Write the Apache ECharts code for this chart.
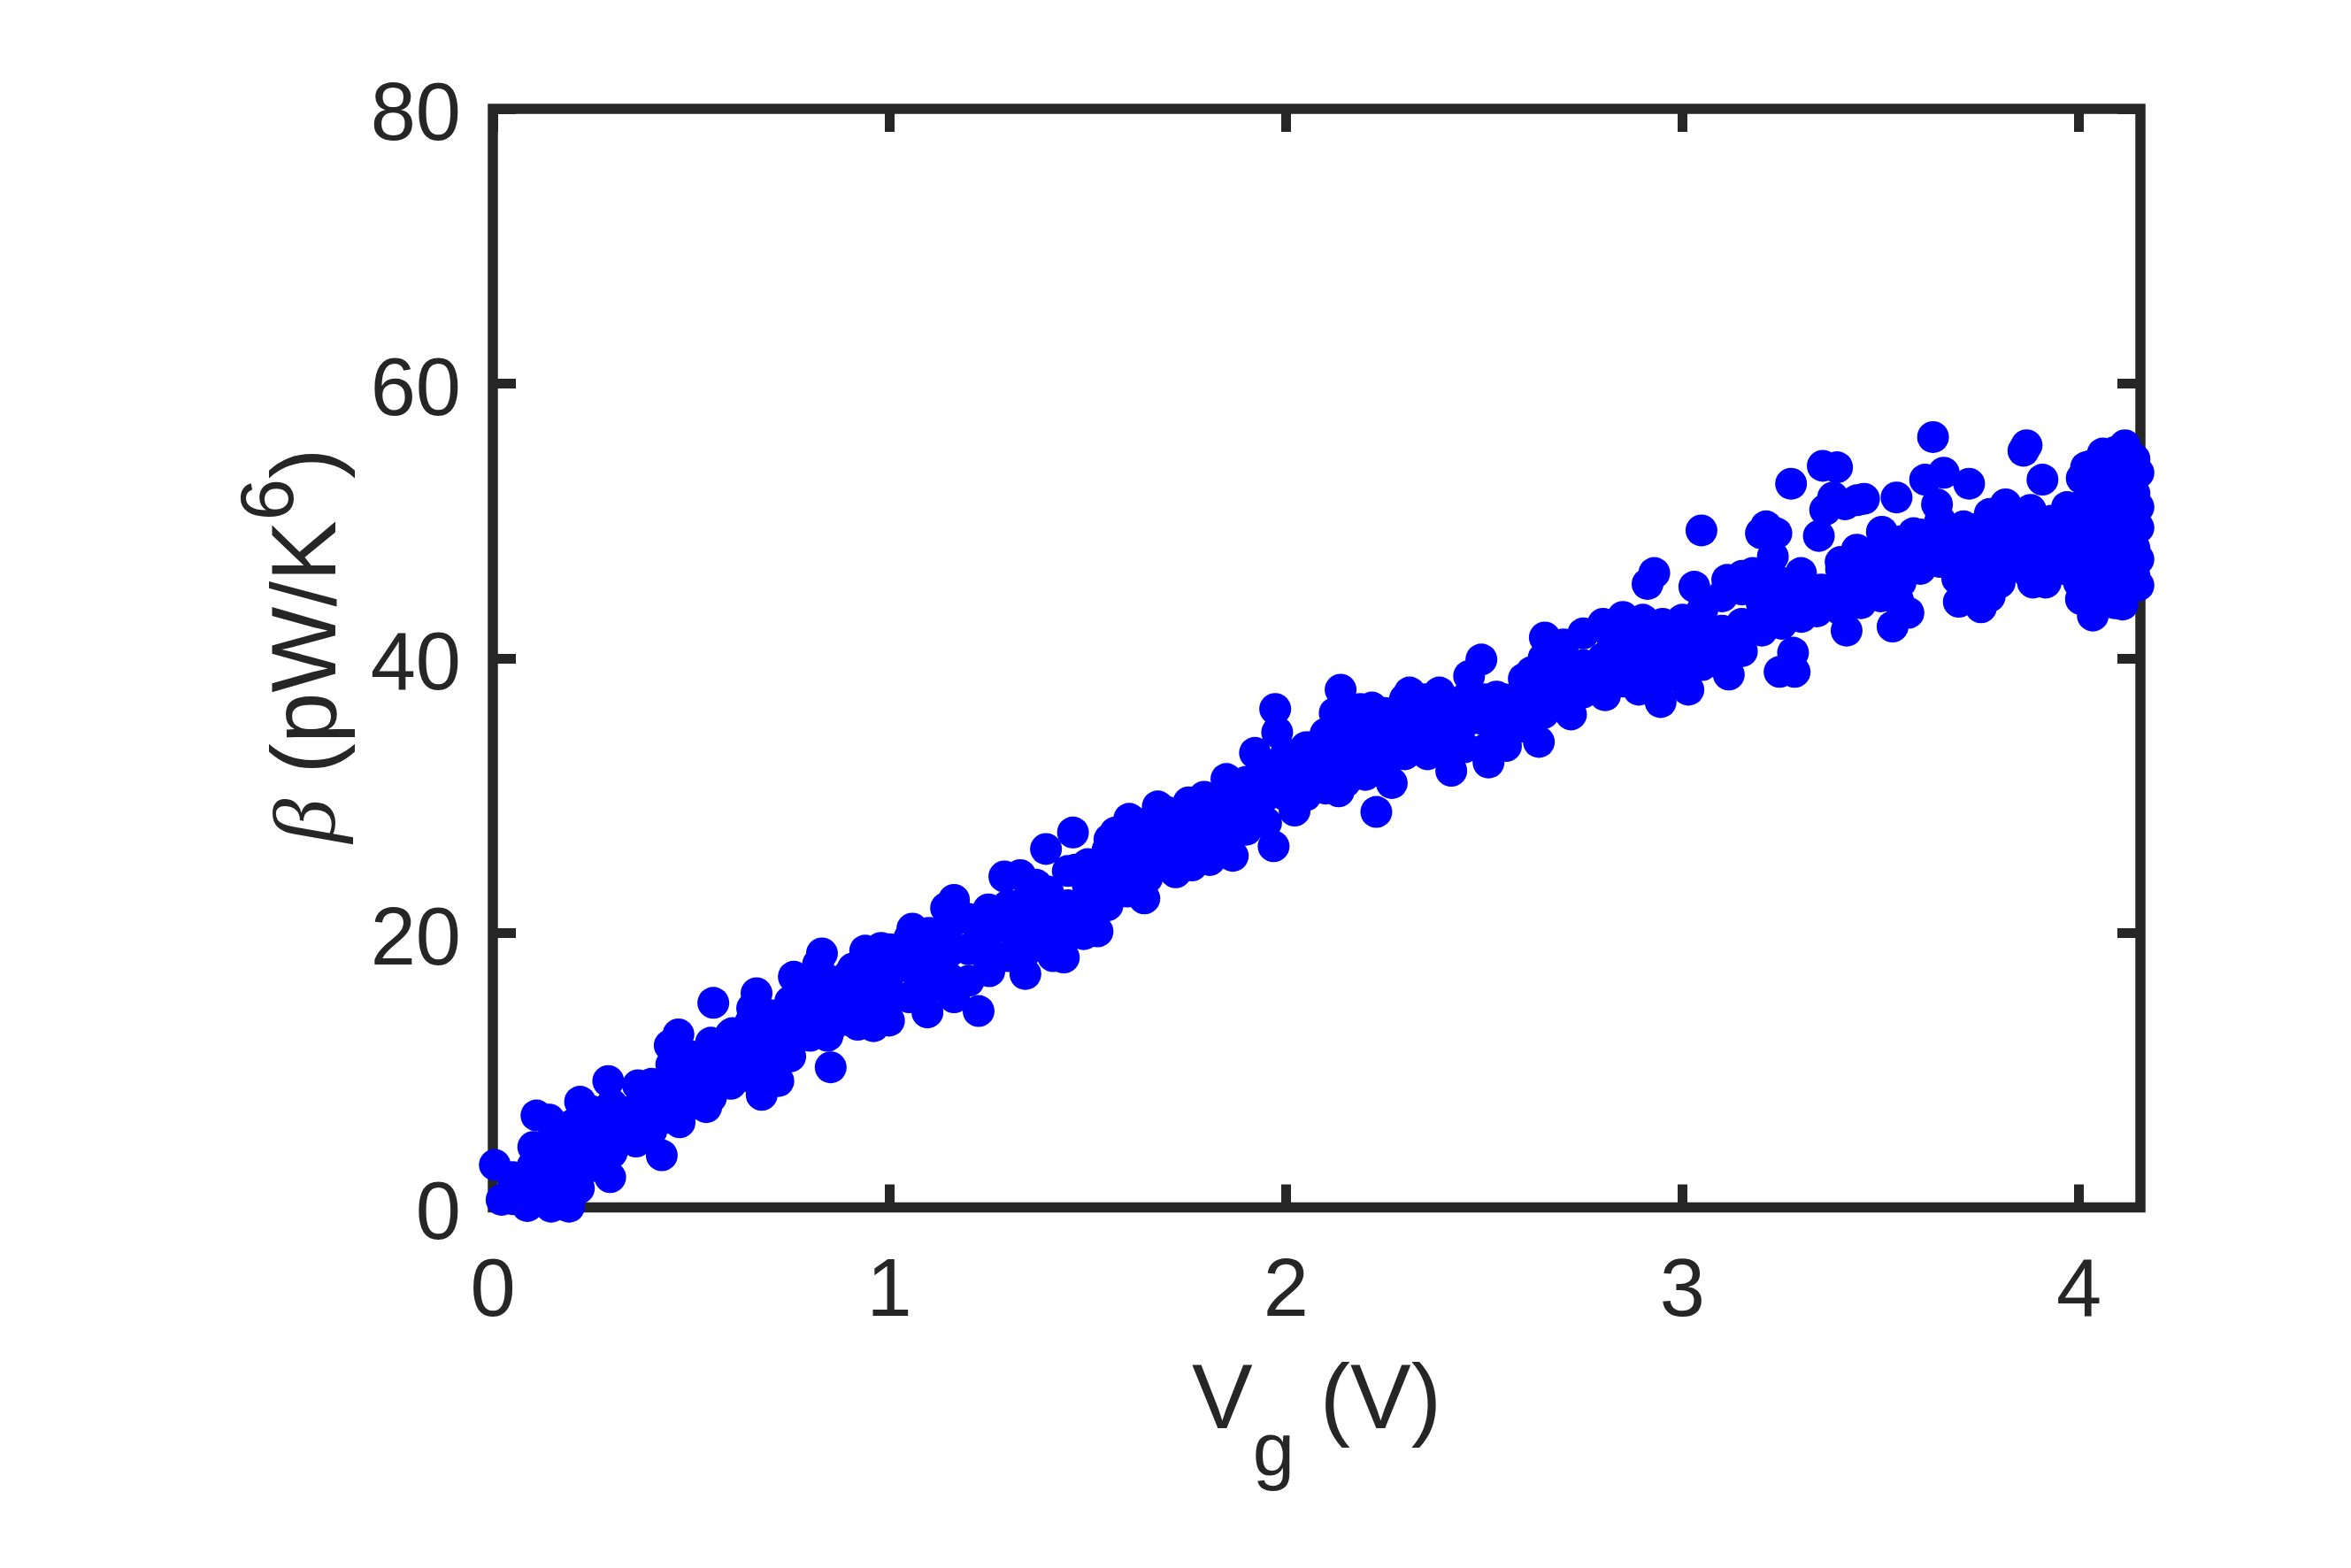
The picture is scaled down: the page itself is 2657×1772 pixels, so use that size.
<!DOCTYPE html>
<html>
<head>
<meta charset="utf-8">
<style>
  html, body { margin: 0; padding: 0; background: #fff; }
  #chart { width: 2657px; height: 1772px; }
</style>
<script src="https://cdn.jsdelivr.net/npm/echarts@6/dist/echarts.min.js"></script>
</head>
<body>
<div id="chart"></div>
<script>
// tick labels
const xTicks = [0, 1, 2, 3, 4]
const yTicks = [0, 20, 40, 60, 80]

const edgeLow = [
  [0.005,3.1],[0.022,0.55],[0.05,0.6],[0.087,0.1],[0.147,0.05],[0.192,0.05],[0.217,1.4],[0.296,2.2],[0.426,3.8],
  [0.102,4.4],[0.361,4.8],[0.471,6.2],[0.538,7.3],[0.678,8.2],[0.72,9.2],[0.852,10.2],[0.844,12.5],[0.92,13.3],
  [0.96,13.2],[0.999,13.6],[1.096,14.2],[1.163,15.3],[1.225,14.3],[1.252,17.2],[1.343,17.0],[1.413,18.3],
  [1.44,18.2],[1.49,19.9],[1.525,20.1],[1.643,22.5],[1.684,24.9],[1.722,24.4],[1.763,24.9],[1.808,25.3],[1.866,25.6],
  [1.969,26.3],[2.022,28.9],[2.133,30.3],[2.228,28.8],[2.267,30.9],[2.357,33],[2.417,31.8],[2.511,32.4],[2.555,33.6],
  [2.638,33.9],[2.719,35.9],[2.805,37.3],[2.89,37.7],[2.945,36.8],[3.015,37.7],[3.117,38.8],[3.203,42.2],[3.245,39],
  [3.283,39],[3.279,40.4],[3.3,43],[3.339,43.4],[3.414,42],[3.53,42.3],[3.57,43.3],[3.544,44.2],[3.693,45.8],
  [3.697,44.1],[3.753,43.7],[3.775,44.5],[3.884,45.5],[3.916,45.5]
]
const edgeHigh = [
  [0.11,6.7],[0.142,6.4],[0.22,7.7],[0.291,9.2],[0.366,8.9],[0.446,11.8],[0.468,12.6],[0.556,14.9],[0.605,12.7],
  [0.665,15.6],[0.654,14.5],[0.759,16.8],[0.83,18.5],[0.82,17.7],[0.908,17.4],[0.939,18.7],[0.979,18.9],[1.058,20.3],
  [1.143,21.8],[1.163,22.4],[1.29,24.1],[1.33,24.2],[1.37,23.5],[1.395,26.1],[1.463,27.3],[1.47,24.6],[1.555,26.8],[1.57,27.3],
  [1.605,28.3],[1.677,29.2],[1.755,29.5],[1.794,29.9],[1.85,31.2],
  [1.922,33.1],[1.973,36.3],[1.978,34.6],[2.058,33.5],[2.123,36],[2.138,37.7],[2.188,36.3],[2.217,36.4],[2.312,37.5],
  [2.387,37.5],[2.462,38.7],[2.493,39.9],[2.531,37.2],[2.571,37],[2.62,39],[2.653,41.5],[2.912,45.4],[2.929,46.2],
  [3.03,45.2],[3.048,49.3],[3.113,45.7],[3.151,46],[3.177,46.2],[3.198,49.1],[3.211,49.6],[3.237,49.1],[3.228,47.4],
  [3.274,52.7],[3.299,46.2],[3.344,48.9],[3.354,54],[3.36,50.8],[3.38,51.7],[3.39,53.9],[3.399,47],[3.41,51.2],
  [3.44,51.5],[3.44,47.9],[3.458,51.6],[3.503,49.2],[3.54,51.7],[3.583,49.1],[3.612,53],[3.632,56.1],[3.642,51.2],
  [3.659,53.5],[3.709,49.6],[3.723,52.7],[3.775,50.5],[3.815,51.2],[3.86,55.1],[3.868,55.5],[3.878,50.8],[3.908,53],[3.953,50.1]
]

// inside of the band, left half
const bandLeft = [
  [0.05,1],[0.05,2.2],[0.1,1.2],[0.1,3],[0.1,0.8],[0.15,1.5],[0.15,3.5],[0.15,5],[0.2,2],[0.2,4],[0.2,6],
  [0.25,3],[0.25,5],[0.25,7],[0.3,4],[0.3,6],[0.3,7.5],[0.35,5.5],[0.35,7],[0.4,5.6],[0.4,7.6],[0.4,9],
  [0.45,6.5],[0.45,8.5],[0.45,10.4],[0.5,7.5],[0.5,9.5],[0.5,11],[0.55,8],[0.55,10],[0.55,12],
  [0.6,9],[0.6,11],[0.6,12.6],[0.65,9.5],[0.65,11.5],[0.65,13.5],[0.7,10],[0.7,12],[0.7,14],
  [0.75,11],[0.75,13],[0.75,15],[0.8,12.5],[0.8,14.3],[0.8,16.2],[0.85,13],[0.85,15],[0.85,16.5],
  [0.9,13.6],[0.9,15.3],[0.9,17],[0.95,14.5],[0.95,16],[0.95,17.7],[1.0,15],[1.0,17],[1.0,18.8],
  [1.05,15.3],[1.05,17.5],[1.05,19.6],[1.1,16],[1.1,18],[1.1,20],[1.15,16.7],[1.15,18.6],[1.15,20.5],
  [1.2,16.5],[1.2,18.8],[1.2,21],[1.25,18],[1.25,20],[1.25,21.7],[1.3,18.3],[1.3,20.4],[1.3,22],
  [1.35,18.8],[1.35,20.7],[1.35,22.5],[1.4,19.5],[1.4,21.2],[1.4,23],[1.45,20],[1.45,22],[1.45,24.5],
  [1.5,21.3],[1.5,23.5],[1.5,25],[1.55,22],[1.55,24],[1.55,26],[1.6,23],[1.6,25],[1.6,27],
  [1.65,24],[1.65,26],[1.65,28],[1.7,25.3],[1.7,27],[1.7,28.8],[1.75,26],[1.75,27.5],[1.75,29],
  [1.8,26],[1.8,27.7],[1.8,29.5],[1.85,26.5],[1.85,28.3],[1.85,30.3],[1.9,27.5],[1.9,29.3],[1.9,31],
  [1.95,28],[1.95,30],[1.95,32]
]

// inside of the band, right half
const bandRight = [
  [2.0,30],[2.0,31.5],[2.0,33],[2.05,30],[2.05,31.8],[2.05,33.5],[2.1,30.5],[2.1,32.5],[2.1,34.5],
  [2.15,31],[2.15,33],[2.15,35],[2.2,31.5],[2.2,33.5],[2.2,35.6],[2.25,32],[2.25,34],[2.25,36],
  [2.3,33],[2.3,35],[2.3,37],[2.35,33.5],[2.35,35.3],[2.35,37],[2.4,33.3],[2.4,35],[2.4,36.8],
  [2.45,33.5],[2.45,35.3],[2.45,37],[2.5,33.3],[2.5,35.5],[2.5,37],[2.55,34],[2.55,36],[2.55,37],
  [2.6,35],[2.6,37],[2.6,38.5],[2.65,36],[2.65,38],[2.65,40],[2.7,37],[2.7,39],[2.7,41],
  [2.75,37.5],[2.75,39.5],[2.75,41.8],[2.8,38],[2.8,40],[2.8,42.5],[2.825,39],[2.825,41.2],[2.85,38.3],[2.85,40.5],[2.85,43],
  [2.875,39.4],[2.875,41.6],[2.9,38.5],[2.9,40.5],[2.9,42.8],[2.925,39.5],[2.925,41.5],[2.95,38.5],[2.95,40.5],[2.95,42.5],
  [2.975,39.6],[2.975,41.6],[3.0,38.5],[3.0,40.5],[3.0,42.8],
  [3.05,39.5],[3.05,41.5],[3.05,43.5],[3.1,40],[3.1,42],[3.1,44.5],[3.15,40.5],[3.15,42.5],[3.15,45],
  [3.2,42],[3.2,44],[3.2,46],[3.25,42.5],[3.25,44.3],[3.25,45.5],[3.3,43.5],[3.3,44.8],[3.35,43.7],[3.35,45],
  [3.4,43.5],[3.4,44.8],[3.4,46.5],[3.45,44],[3.45,45.5],[3.45,47.3],[3.5,44.5],[3.5,46],[3.5,47.5],
  [3.55,45.5],[3.55,47],[3.55,48.5],[3.6,46.5],[3.6,48],[3.6,49],[3.65,47],[3.65,48.5],[3.65,50],
  [3.68,47.5],[3.7,47.2],[3.7,48.5],[3.72,46.3],[3.73,45.4],[3.75,47],[3.75,48.5],[3.75,49.5],[3.76,46],[3.8,45.5],[3.8,46.5],[3.8,48],[3.8,49.5],
  [3.85,47],[3.85,48],[3.85,50],[3.87,46.3],[3.9,47.5],[3.9,49],[3.92,46.2],[3.93,50],[3.95,47.5],[3.95,49],[3.96,46.5],[3.97,51]
]

// heavy pile-up at the end of the sweep
const endCluster = [
  [4.005,44.3],[4.007,53.1],[4.018,53.9],[4.035,43.1],[4.06,54.9],[4.11,43.9],[4.116,55.5],[4.15,45.3],
  [4.0,45.5],[4.0,47],[4.0,49],[4.0,51],[4.03,44.5],[4.03,46],[4.03,48],[4.03,50],[4.03,52],[4.03,54],
  [4.06,44.5],[4.06,46.5],[4.06,48.5],[4.06,50.5],[4.06,52.5],[4.09,44],[4.09,46],[4.09,48],[4.09,50],[4.09,52],[4.09,54],[4.09,55],
  [4.12,45],[4.12,47],[4.12,49],[4.12,51],[4.12,53],[4.12,55],[4.14,46],[4.14,48],[4.14,50],[4.14,52],[4.14,54.5],
  [4.15,47.2],[4.15,49.5],[4.15,51],[4.15,53.5]
]

const points = [].concat(edgeLow, edgeHigh, bandLeft, bandRight, endCluster)

const ink = '#262626'
const chart = echarts.init(document.getElementById('chart'))

const tickStyle = {
  show: true,
  inside: true,
  length: 26,
  lineStyle: { color: ink, width: 11 }
}

chart.setOption({
  animation: false,
  backgroundColor: '#fff',
  textStyle: { fontFamily: '"Liberation Sans"' },
  grid: {
    left: 557,
    right: 238,
    top: 123,
    bottom: 407.5,
    show: true,
    borderColor: ink,
    borderWidth: 11.5,
    backgroundColor: '#fff'
  },
  xAxis: [
    {
      type: 'value',
      min: 0,
      max: 4.155,
      splitLine: { show: false },
      axisLine: { show: false, onZero: false },
      axisTick: { ...tickStyle, customValues: xTicks },
      axisLabel: { customValues: xTicks, color: ink, fontSize: 92, margin: 51 },
      name: '{v|V}{g|g}{u| (V)}',
      nameLocation: 'middle',
      nameGap: 170,
      nameTextStyle: {
        rich: {
          v: { fontSize: 103, color: ink, verticalAlign: 'top' },
          g: { fontSize: 85, color: ink, lineHeight: 152, verticalAlign: 'bottom' },
          u: { fontSize: 103, color: ink, verticalAlign: 'top' }
        }
      }
    },
    {
      type: 'value',
      position: 'top',
      min: 0,
      max: 4.155,
      splitLine: { show: false },
      axisLine: { show: false, onZero: false },
      axisLabel: { show: false },
      axisTick: { ...tickStyle, customValues: xTicks }
    }
  ],
  yAxis: [
    {
      type: 'value',
      min: 0,
      max: 80,
      interval: 20,
      splitLine: { show: false },
      axisLine: { show: false, onZero: false },
      axisTick: { ...tickStyle, customValues: yTicks },
      // label sits a little below its tick in the original
      axisLabel: { customValues: yTicks, color: ink, fontSize: 92, margin: 36, verticalAlign: 'top', lineHeight: 20 },
      name: '{b|\u03b2}{u| (pW/K}{s|6}{u|)}',
      nameLocation: 'middle',
      nameRotate: 90,
      nameGap: 155,
      nameTextStyle: {
        rich: {
          b: { fontSize: 100, color: ink, fontFamily: '"Liberation Serif"', fontStyle: 'italic', verticalAlign: 'bottom', padding: [0, 0, 0, 28] },
          u: { fontSize: 103, color: ink, verticalAlign: 'bottom' },
          s: { fontSize: 85, color: ink, lineHeight: 137, verticalAlign: 'top' }
        }
      }
    },
    {
      type: 'value',
      position: 'right',
      min: 0,
      max: 80,
      interval: 20,
      splitLine: { show: false },
      axisLine: { show: false, onZero: false },
      axisLabel: { show: false },
      axisTick: { ...tickStyle, customValues: yTicks }
    }
  ],
  series: [
    {
      type: 'scatter',
      data: points,
      symbolSize: 36,
      clip: false,
      itemStyle: { color: '#0000ff', opacity: 1 },
      emphasis: { disabled: true }
    }
  ]
})
</script>
</body>
</html>
